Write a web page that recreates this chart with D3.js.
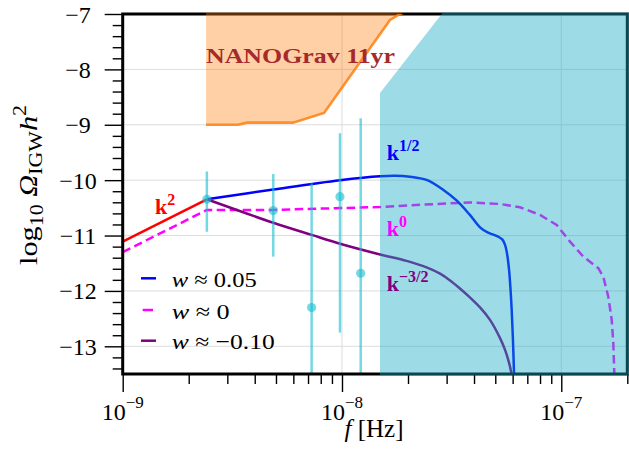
<!DOCTYPE html>
<html><head><meta charset="utf-8">
<script src="https://cdn.jsdelivr.net/npm/d3@7/dist/d3.min.js"></script>
<style>
body{margin:0;background:#fff}
svg{display:block}
text{font-family:"Liberation Serif","Times New Roman",serif}
</style>
</head><body>
<svg id="chart" width="629" height="460"></svg>
<script>
// ---------------- data ----------------
const redFreq = [1e-9, 2.42e-9];
const redVal  = [-11.11, -10.345];

const magFreq = [1e-9, 2.42e-9, 4.86e-9, 1.49e-8, 2.70e-8, 3.83e-8, 5.25e-8, 6.48e-8, 8.0e-8, 9.53e-8, 1.096e-7, 1.26e-7, 1.475e-7, 1.554e-7, 1.638e-7, 1.698e-7, 1.727e-7, 1.745e-7, 1.75e-7];
const magVal  = [-11.30, -10.538, -10.538, -10.484, -10.43, -10.403, -10.43, -10.489, -10.628, -10.809, -11.11, -11.381, -11.59, -11.742, -12.103, -12.523, -12.944, -13.5, -13.7];

const blueFreq = [2.42e-9, 4.86e-9, 9.79e-9, 1.49e-8, 1.745e-8, 2.04e-8, 2.43e-8, 2.90e-8, 3.33e-8, 3.83e-8, 4.26e-8, 4.61e-8, 4.94e-8, 5.16e-8, 5.38e-8, 5.54e-8, 5.67e-8, 5.78e-8, 5.87e-8, 5.94e-8, 6.02e-8, 6.09e-8, 6.11e-8];
const blueVal  = [-10.345, -10.168, -10.001, -9.929, -9.92, -9.937, -9.996, -10.177, -10.366, -10.628, -10.853, -10.944, -10.989, -11.021, -11.07, -11.17, -11.35, -11.62, -11.98, -12.34, -12.89, -13.5, -13.7];

const purpFreq = [2.42e-9, 4.86e-9, 7.27e-9, 9.79e-9, 1.49e-8, 1.97e-8, 2.43e-8, 2.80e-8, 3.11e-8, 3.45e-8, 3.83e-8, 4.26e-8, 4.73e-8, 5.25e-8, 5.54e-8, 5.78e-8, 5.96e-8];
const purpVal  = [-10.345, -10.769, -10.989, -11.148, -11.341, -11.458, -11.575, -11.689, -11.810, -11.955, -12.117, -12.298, -12.523, -12.848, -13.065, -13.300, -13.534];

const ptaFreq = [2.42e-9, 4.86e-9, 7.27e-9, 9.79e-9, 1.217e-8];
const ptaVal  = [-10.345, -10.55, -12.30, -10.298, -11.681];
const ptaHi   = [-9.846, -9.888, -10.056, -9.154, -8.883];
const ptaLo   = [-10.93, -11.381, -14.0, -12.753, -14.0];

const nanoFreq = [2.40e-9, 3.36e-9, 3.69e-9, 5.98e-9, 8.28e-9, 1.655e-8, 1.84e-8, 2.3e-8];
const nanoVal  = [-9.0, -9.0, -8.962, -8.962, -8.787, -7.108, -7.0, -6.85];
const nanoTop  = -6.5;

const sensFreq = [1.49e-8, 1.49e-8, 2.85e-8, 2.98e-8, 2.5e-7, 2.5e-7];
const sensVal  = [-14.0, -8.426, -7.0, -6.9, -6.9, -14.0];

const yMajor = [-7, -8, -9, -10, -11, -12, -13];
const yGrid  = [-8, -9, -10, -11, -12, -13];
const xMajor = [1e-9, 1e-8, 1e-7];
const xExpLabels = ["−9", "−8", "−7"];
const xGrid  = [1e-8, 1e-7];

const legendLabels = ["0.05", "0", "−0.10"];
const legendColors = ["#0000ff", "#ff00ff", "#800080"];

// ---------------- layout ----------------
const L = 122.7, R = 627.3, T = 14, B = 374;
const svg = d3.select("#chart");
const x = d3.scaleLog().domain([1e-9, 2e-7]).range([L, R]);
const y = d3.scaleLinear().domain([-13.5, -7]).range([B, T]);

const defs = svg.append("defs");
defs.append("clipPath").attr("id", "plotclip").append("rect")
  .attr("x", L).attr("y", T).attr("width", R - L).attr("height", B - T);
defs.append("clipPath").attr("id", "plotclip2").append("rect")
  .attr("x", L - 1.6).attr("y", T - 1.6).attr("width", R - L + 3.2).attr("height", B - T + 3.2);

// grid
const grid = svg.append("g").attr("stroke", "#dcdcdc").attr("stroke-width", 1);
yGrid.forEach(v => grid.append("line").attr("x1", L).attr("x2", R).attr("y1", y(v)).attr("y2", y(v)));
xGrid.forEach(v => grid.append("line").attr("y1", T).attr("y2", B).attr("x1", x(v)).attr("x2", x(v)));

// curves
const plot = svg.append("g").attr("clip-path", "url(#plotclip)");
const lin = d3.line().x(d => x(d[0])).y(d => y(d[1]));
const smooth = d3.line().x(d => x(d[0])).y(d => y(d[1])).curve(d3.curveCatmullRom.alpha(0.5));

plot.append("path").attr("d", lin(d3.zip(redFreq, redVal)))
  .attr("fill", "none").attr("stroke", "#ff0000").attr("stroke-width", 2.5);
plot.append("path").attr("d", lin(d3.zip(magFreq, magVal)))
  .attr("fill", "none").attr("stroke", "#ff00ff").attr("stroke-width", 2.5)
  .attr("stroke-dasharray", "8.5,4.5");
plot.append("path").attr("d", smooth(d3.zip(blueFreq, blueVal)))
  .attr("fill", "none").attr("stroke", "#0000ff").attr("stroke-width", 2.5);
plot.append("path").attr("d", smooth(d3.zip(purpFreq, purpVal)))
  .attr("fill", "none").attr("stroke", "#800080").attr("stroke-width", 2.5);

// error bars
const eb = plot.append("g");
ptaFreq.forEach((f, i) => {
  eb.append("line").attr("x1", x(f)).attr("x2", x(f)).attr("y1", y(ptaHi[i])).attr("y2", y(ptaLo[i]))
    .attr("stroke", "#17becf").attr("stroke-opacity", 0.6).attr("stroke-width", 2.5);
  eb.append("circle").attr("cx", x(f)).attr("cy", y(ptaVal[i])).attr("r", 4.6)
    .attr("fill", "#17becf").attr("fill-opacity", 0.6);
});

// axes ticks
const yAxis = d3.axisLeft(y).tickValues(yMajor).tickSize(18).tickFormat("");
const yMinorVals = d3.range(-134, -69, 2).map(d => d / 10).filter(v => Math.abs(v - Math.round(v)) > 1e-6);
const yAxisMinor = d3.axisLeft(y).tickValues(yMinorVals).tickSize(10).tickFormat("");
const xMinorVals = [];
[1e-9, 1e-8, 1e-7].forEach(p => { for (let k = 2; k <= 9; k++) { const v = k * p; if (v <= 2.0001e-7) xMinorVals.push(v); } });
const xAxis = d3.axisBottom(x).tickValues(xMajor).tickSize(18).tickFormat("");
const xAxisMinor = d3.axisBottom(x).tickValues(xMinorVals).tickSize(10).tickFormat("");

function styleAxis(g) {
  g.select(".domain").remove();
  g.selectAll(".tick line").attr("stroke", "#000").attr("stroke-width", 1.4);
}
svg.append("g").attr("transform", `translate(${L},0)`).call(yAxis).call(styleAxis);
svg.append("g").attr("transform", `translate(${L},0)`).call(yAxisMinor).call(styleAxis);
svg.append("g").attr("transform", `translate(0,${B})`).call(xAxis).call(styleAxis);
svg.append("g").attr("transform", `translate(0,${B})`).call(xAxisMinor).call(styleAxis);

// spines
svg.append("rect").attr("x", L).attr("y", T).attr("width", R - L).attr("height", B - T)
  .attr("fill", "none").attr("stroke", "#000").attr("stroke-width", 3);

// NANOGrav region
const over = svg.append("g").attr("clip-path", "url(#plotclip2)");
const nanoPoly = d3.zip(nanoFreq, nanoVal).concat([[nanoFreq[nanoFreq.length - 1], nanoTop], [nanoFreq[0], nanoTop]]);
over.append("path").attr("d", lin(nanoPoly) + "Z").attr("fill", "#ff7f0e").attr("fill-opacity", 0.37);
svg.append("g").attr("clip-path", "url(#plotclip)").append("path")
  .attr("d", lin(d3.zip(nanoFreq, nanoVal))).attr("fill", "none")
  .attr("stroke", "#ff7f0e").attr("stroke-opacity", 0.85).attr("stroke-width", 2.6);

// sensitivity region (on top)
over.append("path").attr("d", lin(d3.zip(sensFreq, sensVal)) + "Z")
  .attr("fill", "#16acc4").attr("fill-opacity", 0.42);

// ---------------- text ----------------
yMajor.forEach(v => {
  svg.append("text").attr("x", 78).attr("y", y(v) + 8.5).attr("text-anchor", "middle")
    .attr("font-size", 24).text("−" + Math.abs(v));
});
xMajor.forEach((v, i) => {
  const t = svg.append("text").attr("x", x(v)).attr("y", 419.5).attr("text-anchor", "middle").attr("font-size", 24);
  t.append("tspan").text("10");
  t.append("tspan").attr("font-size", 17).attr("dy", -12).text(xExpLabels[i]);
});
const xl = svg.append("text").attr("x", 374).attr("y", 437).attr("text-anchor", "middle").attr("font-size", 25);
xl.append("tspan").attr("font-style", "italic").text("f");
xl.append("tspan").text(" [Hz]");

const yl = svg.append("text").attr("transform", "translate(37,185) rotate(-90)")
  .attr("text-anchor", "middle").attr("font-size", 25)
  .attr("textLength", 160).attr("lengthAdjust", "spacingAndGlyphs");
yl.append("tspan").text("log");
yl.append("tspan").attr("font-size", 18).attr("dy", 6).text("10");
yl.append("tspan").attr("dy", -6).text(" ");
yl.append("tspan").attr("font-style", "italic").text("Ω");
yl.append("tspan").attr("font-size", 18).attr("dy", 5).text("IGW");
yl.append("tspan").attr("dy", -5).attr("font-style", "italic").text("h");
yl.append("tspan").attr("font-size", 18).attr("dy", -11).text("2");

svg.append("text").attr("x", 206).attr("y", 63.3).attr("font-size", 22).attr("font-weight", "bold")
  .attr("fill", "#a52a2a").attr("textLength", 189).attr("lengthAdjust", "spacingAndGlyphs").text("NANOGrav 11yr");

function kLabel(xp, yp, sup, color) {
  const t = svg.append("text").attr("x", xp).attr("y", yp).attr("font-size", 22).attr("font-weight", "bold").attr("fill", color);
  t.append("tspan").text("k");
  t.append("tspan").attr("font-size", 16).attr("dy", -9).text(sup);
}
kLabel(155, 214, "2", "#ff0000");
kLabel(386.7, 159.5, "1/2", "#0000ff");
kLabel(386.7, 236, "0", "#ff00ff");
kLabel(386.7, 290.7, "−3/2", "#800080");

const legY = [278.3, 310, 340.7];
const legLen = [85, 58, 103];
legendLabels.forEach((lab, i) => {
  const ly = legY[i];
  if (i === 1) {
    svg.append("line").attr("x1", 142.7).attr("x2", 153).attr("y1", ly).attr("y2", ly)
      .attr("stroke", legendColors[i]).attr("stroke-width", 2.5);
  } else {
    svg.append("line").attr("x1", 141).attr("x2", 156).attr("y1", ly).attr("y2", ly)
      .attr("stroke", legendColors[i]).attr("stroke-width", 2.5);
  }
  const t = svg.append("text").attr("x", 171.7).attr("y", ly + 8.5).attr("font-size", 22)
    .attr("textLength", legLen[i]).attr("lengthAdjust", "spacingAndGlyphs");
  t.append("tspan").attr("font-style", "italic").text("w");
  t.append("tspan").text(" ≈ " + lab);
});
</script>
</body></html>
